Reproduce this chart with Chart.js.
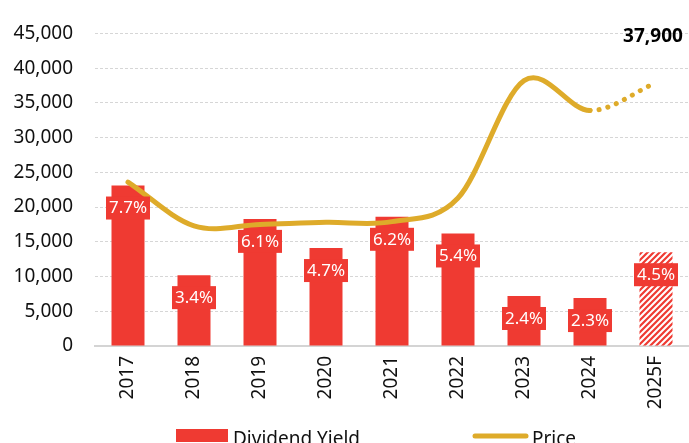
<!DOCTYPE html>
<html>
<head>
<meta charset="utf-8">
<script src="https://cdn.jsdelivr.net/npm/chart.js@4/dist/chart.umd.min.js"></script>
<style>
  html, body { margin: 0; padding: 0; background: #fff; }
  #wrap { width: 689px; height: 443px; }
</style>
</head>
<body>
<div id="wrap"><canvas id="divChart"></canvas></div>
<script>
// Data
const years = ['2017', '2018', '2019', '2020', '2021', '2022', '2023', '2024', '2025F'];
const barHeights = [23100, 10200, 18300, 14100, 18600, 16200, 7200, 6900, 13500];
const yieldLabels = ['7.7%', '3.4%', '6.1%', '4.7%', '6.2%', '5.4%', '2.4%', '2.3%', '4.5%'];
const prices = [23600, 17300, 17500, 17800, 17900, 21300, 38200, 33900, 37900];
const yTicks = [0, 5000, 10000, 15000, 20000, 25000, 30000, 35000, 40000, 45000];

const RED = '#ef3a32';
const GOLD = '#deab2a';
const FONT = '"Noto Sans", "Open Sans", sans-serif';

// hatched fill for the forecast bar
function makeHatch() {
  const c = document.createElement('canvas');
  c.width = 6; c.height = 6;
  const g = c.getContext('2d');
  g.fillStyle = '#fff';
  g.fillRect(0, 0, 6, 6);
  g.strokeStyle = RED;
  g.lineWidth = 2.2;
  g.beginPath();
  g.moveTo(-1, 7); g.lineTo(7, -1);
  g.moveTo(-4, 4); g.lineTo(4, -4);
  g.moveTo(2, 10); g.lineTo(10, 2);
  g.stroke();
  return g.createPattern(c, 'repeat');
}

const ctx = document.getElementById('divChart').getContext('2d');
const hatch = makeHatch();

// excel-like smoothing (catmull-rom control points) for the price line
const smoothPlugin = {
  id: 'smooth',
  beforeDatasetDraw(chart, args) {
    if (args.index !== 1) return;
    const meta = chart.getDatasetMeta(1);
    const p = meta.data;
    const n = p.length;
    for (let i = 0; i < n; i++) {
      const prev = p[Math.max(i - 1, 0)];
      const next = p[Math.min(i + 1, n - 1)];
      let k = 1 / 6;
      if (i === 0 || i === n - 1) k = 1 / 3;
      const dx = (next.x - prev.x) * k;
      const dy = (next.y - prev.y) * k;
      p[i].cp1x = p[i].x - dx; p[i].cp1y = p[i].y - dy;
      p[i].cp2x = p[i].x + dx; p[i].cp2y = p[i].y + dy;
    }
    meta.dataset._pointsUpdated = true;
    meta.dataset._path = undefined;
  }
};

// yield boxes, price label and legend
const overlayPlugin = {
  id: 'overlay',
  afterDatasetsDraw(chart) {
    const c = chart.ctx;
    const bars = chart.getDatasetMeta(0).data;
    c.save();
    c.font = '17px ' + FONT;
    c.textAlign = 'center';
    c.textBaseline = 'middle';
    bars.forEach((bar, i) => {
      const top = bar.y + 11;
      c.fillStyle = RED;
      c.fillRect(bar.x - 22, top, 44, 23);
      c.fillStyle = '#fff';
      c.fillText(yieldLabels[i], bar.x, top + 12);
    });

    // last price label
    const pts = chart.getDatasetMeta(1).data;
    const last = pts[pts.length - 1];
    c.fillStyle = '#000';
    c.font = 'bold 19px ' + FONT;
    c.fillText(prices[prices.length - 1].toLocaleString('en-US'), last.x - 3, last.y - 46);

    // legend
    c.font = '19px ' + FONT;
    c.textAlign = 'left';
    c.textBaseline = 'alphabetic';
    c.fillStyle = RED;
    c.fillRect(176, 429, 52, 13);
    c.fillStyle = '#111';
    c.fillText('Dividend Yield', 233, 445);
    c.strokeStyle = GOLD;
    c.lineWidth = 5;
    c.lineCap = 'round';
    c.beginPath();
    c.moveTo(475, 436);
    c.lineTo(526, 436);
    c.stroke();
    c.fillStyle = '#111';
    c.fillText('Price', 532, 445);
    c.restore();
  }
};

const divChart = new Chart(ctx, {
  data: {
    labels: years,
    datasets: [{
      type: 'bar',
      label: 'Dividend Yield',
      data: barHeights,
      backgroundColor: years.map((y, i) => i === years.length - 1 ? hatch : RED),
      barPercentage: 0.5,
      categoryPercentage: 1,
      order: 2
    }, {
      type: 'line',
      label: 'Price',
      data: prices,
      borderColor: GOLD,
      borderWidth: 5,
      borderCapStyle: 'round',
      pointRadius: 0,
      tension: 0.4,
      fill: false,
      order: 1,
      segment: {
        borderDash: s => s.p0DataIndex === prices.length - 2 ? [0.1, 9] : undefined
      }
    }]
  },
  options: {
    responsive: true,
    maintainAspectRatio: false,
    animation: false,
    layout: { padding: { top: 33, right: 0, left: 0, bottom: 0 } },
    plugins: {
      legend: { display: false },
      tooltip: { enabled: false }
    },
    scales: {
      x: {
        grid: { display: false, drawTicks: false },
        border: { display: true, color: '#d4d4d4', width: 2 },
        ticks: {
          color: '#111',
          font: { family: FONT, size: 19 },
          maxRotation: 90,
          minRotation: 90,
          padding: 10
        },
        afterFit: s => { s.height = 97; }
      },
      y: {
        min: 0,
        max: 45000,
        afterBuildTicks: s => { s.ticks = yTicks.map(v => ({ value: v })); },
        grid: { color: '#d6d6d6', drawTicks: false, lineWidth: 1 },
        border: { display: false, dash: [3, 2] },
        ticks: {
          color: '#111',
          font: { family: FONT, size: 19 },
          padding: 22,
          callback: v => v.toLocaleString('en-US')
        },
        afterFit: s => { s.width = 95; }
      }
    }
  },
  plugins: [smoothPlugin, overlayPlugin]
});
</script>
</body>
</html>
